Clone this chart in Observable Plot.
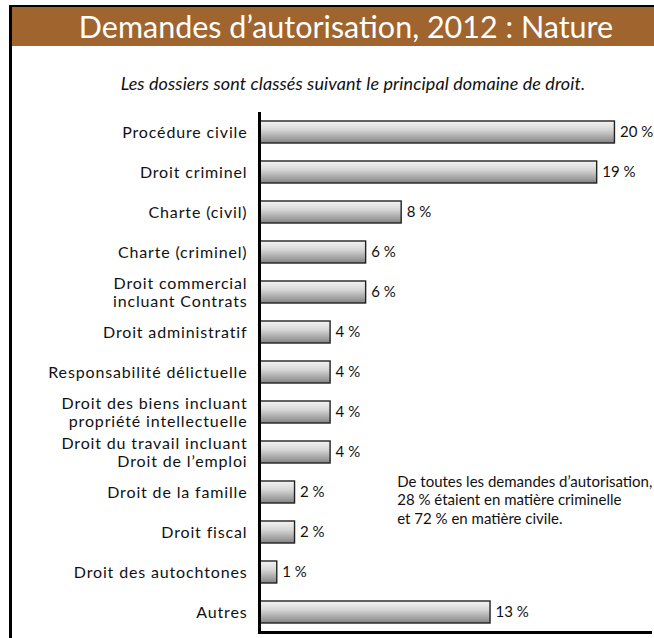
<!DOCTYPE html>
<html>
<head>
<meta charset="utf-8">
<script src="https://cdn.jsdelivr.net/npm/d3@7"></script>
<script src="https://cdn.jsdelivr.net/npm/@observablehq/plot@0.6"></script>
<style>
  html, body { margin: 0; padding: 0; background: #fff; width: 654px; height: 638px; overflow: hidden; }
  body { position: relative; font-family: Lato, "Open Sans", sans-serif; }
  #frame { position: absolute; left: 9px; top: 5px; width: 700px; height: 700px;
           border-left: 3px solid #000; border-top: 2px solid #000; }
  #title { position: absolute; left: 12px; top: 7px; width: 668px; height: 39px;
           background: #a0652e; color: #fff; font-size: 30.5px; line-height: 39px;
           text-align: center; white-space: nowrap; }
  #subtitle { position: absolute; left: 52px; top: 72px; width: 602px; text-align: center;
              font-style: italic; font-size: 18px; color: #111; white-space: nowrap; letter-spacing: 0.1px; }
  #chart { position: absolute; left: 0; top: 100px; }
  #chart g[aria-label="y-axis tick label"] text { letter-spacing: 0.85px; }
</style>
</head>
<body>
<div id="frame"></div>
<div id="title">Demandes d’autorisation, 2012 : Nature</div>
<div id="subtitle">Les dossiers sont classés suivant le principal domaine de droit.</div>
<div id="chart"></div>
<script>
const categories = [
  "Procédure civile",
  "Droit criminel",
  "Charte (civil)",
  "Charte (criminel)",
  "Droit commercial\nincluant Contrats",
  "Droit administratif",
  "Responsabilité délictuelle",
  "Droit des biens incluant\npropriété intellectuelle",
  "Droit du travail incluant\nDroit de l’emploi",
  "Droit de la famille",
  "Droit fiscal",
  "Droit des autochtones",
  "Autres"
];
const values = [20, 19, 8, 6, 6, 4, 4, 4, 4, 2, 2, 1, 13];
const xDomain = [0, 22];

const noteLines = [
  "De toutes les demandes d’autorisation,",
  "28 % étaient en matière criminelle",
  "et 72 % en matière civile."
];
const noteX = 7.75;
const noteY = "Droit de la famille";

const data = categories.map((c, i) => ({category: c, value: values[i], label: `${values[i]} %`}));

const gradient = () => {
  const defs = d3.create("svg:defs");
  const g = defs.append("linearGradient")
    .attr("id", "barGrad").attr("x1", 0).attr("y1", 0).attr("x2", 0).attr("y2", 1);
  g.append("stop").attr("offset", "0%").attr("stop-color", "#f4f4f4");
  g.append("stop").attr("offset", "40%").attr("stop-color", "#d6d6d6");
  g.append("stop").attr("offset", "100%").attr("stop-color", "#838383");
  return defs.node();
};

const chart = Plot.plot({
  width: 654,
  height: 538,
  marginLeft: 259,
  marginRight: 4,
  marginTop: 13,
  marginBottom: 6,
  style: {fontFamily: "Lato, 'Open Sans', sans-serif", fontSize: "15px", color: "#111", background: "transparent"},
  x: {domain: xDomain, axis: null},
  y: {domain: categories, paddingInner: 0.44, paddingOuter: 0.16, axis: null},
  marks: [
    gradient,
    Plot.barX(data, {y: "category", x: "value", fill: "url(#barGrad)", stroke: "#222", strokeWidth: 1.4}),
    Plot.text(data, {y: "category", x: "value", text: "label", textAnchor: "start", dx: 5, fontSize: 15, fill: "#111"}),
    Plot.axisY({tickSize: 0, tickPadding: 12, fontSize: 16, lineHeight: 1.1, fill: "#111", label: null}),
    Plot.text([noteLines.join("\n")], {x: () => noteX, y: () => noteY, textAnchor: "start", lineAnchor: "middle", dy: 7, lineHeight: 1.23, fontSize: 15, fill: "#111"}),
    Plot.frame({anchor: "left", stroke: "#000", strokeWidth: 3}),
    Plot.frame({anchor: "bottom", stroke: "#000", strokeWidth: 3})
  ]
});
document.getElementById("chart").appendChild(chart);
</script>
</body>
</html>
